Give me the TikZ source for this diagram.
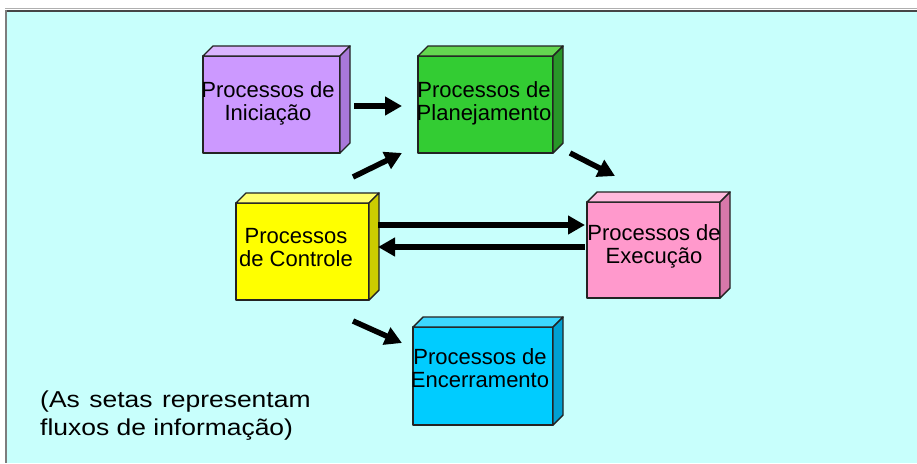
\documentclass[tikz,border=0pt]{standalone}
\usepackage{fontspec}
\setmainfont{Liberation Sans}
\newfontfamily\notefont{Liberation Sans}[FakeStretch=1.15]
\usetikzlibrary{arrows.meta}

% panel and box colours
\definecolor{panel}{RGB}{200,255,252}
\definecolor{rimlight}{RGB}{175,175,175}
\definecolor{rimdark}{RGB}{70,70,70}
\definecolor{edge}{RGB}{35,35,35}
\definecolor{iniF}{RGB}{204,153,255}
\definecolor{iniT}{RGB}{218,180,255}
\definecolor{iniS}{RGB}{168,120,218}
\definecolor{plaF}{RGB}{51,204,51}
\definecolor{plaT}{RGB}{100,214,80}
\definecolor{plaS}{RGB}{40,150,40}
\definecolor{ctlF}{RGB}{255,255,0}
\definecolor{ctlT}{RGB}{255,255,110}
\definecolor{ctlS}{RGB}{204,204,0}
\definecolor{exeF}{RGB}{255,153,204}
\definecolor{exeT}{RGB}{255,186,221}
\definecolor{exeS}{RGB}{215,120,170}
\definecolor{encF}{RGB}{0,204,255}
\definecolor{encT}{RGB}{60,215,255}
\definecolor{encS}{RGB}{0,160,210}

\tikzset{
  face/.style={draw=edge, line width=1.4pt, line join=round},
  boxfront/.style={face, anchor=north west, inner sep=0pt, outer sep=0pt},
  boxtext/.style={anchor=north, inner sep=0pt, align=center,
    font=\fontsize{22}{23.5}\selectfont},
  flow/.style={line width=5.5pt, -{Triangle[length=17pt,width=18pt]}},
}

% top and right faces of a block, drawn on the front face node #1
\newcommand\solidfaces[3]{%
  \path[face, fill=#2] (#1.north west) -- ++(10,-10)
    -- ([shift={(10,-10)}]#1.north east) -- (#1.north east) -- cycle;
  \path[face, fill=#3] (#1.north east) -- ++(10,-10)
    -- ([shift={(10,-10)}]#1.south east) -- (#1.south east) -- cycle;
}

\begin{document}
\begin{tikzpicture}[x=1pt, y=-1pt]
  \useasboundingbox (0,0) rectangle (917,463);
  % panel
  \fill[white] (0,0) rectangle (917,463);
  \fill[panel] (6,10) rectangle (917,463);
  \draw[rimlight, line width=1.5pt] (5,8.5) -- (917,8.5);
  \draw[rimdark, line width=2pt] (6,10.5) -- (917,10.5);
  \draw[rimdark!70, line width=1.5pt] (6,10) -- (6,463);

  % blocks
  \node[boxfront, fill=iniF, minimum width=137pt, minimum height=97pt] (ini) at (203,56) {};
  \solidfaces{ini}{iniT}{iniS}
  \node[boxfront, fill=plaF, minimum width=135pt, minimum height=97pt] (pla) at (418,56) {};
  \solidfaces{pla}{plaT}{plaS}
  \node[boxfront, fill=ctlF, minimum width=133pt, minimum height=97pt] (ctl) at (236,203) {};
  \solidfaces{ctl}{ctlT}{ctlS}
  \node[boxfront, fill=exeF, minimum width=133pt, minimum height=96pt] (exe) at (587,202) {};
  \solidfaces{exe}{exeT}{exeS}
  \node[boxfront, fill=encF, minimum width=140pt, minimum height=98pt] (enc) at (413,327) {};
  \solidfaces{enc}{encT}{encS}

  % labels
  \node[boxtext] (ini-t) at (268,81) {Processos de\\Iniciação};
  \node[boxtext] (pla-t) at (484,81) {Processos de\\Planejamento};
  \node[boxtext] (ctl-t) at (296,228) {Processos\\de Controle};
  \node[boxtext] (exe-t) at (654,224) {Processos de\\Execução};
  \node[boxtext] (enc-t) at (480,348) {Processos de\\Encerramento};

  % information flows
  \draw[flow] ([shift={(14,1.5)}]ini.east) -- ([shift={(-16,1.5)}]pla.west);
  \draw[flow] ([shift={(-16,-26)}]ctl.north east) -- ([shift={(-16,0)}]pla.south west);
  \draw[flow] ([shift={(17,0)}]pla.south east) -- ([shift={(28,-26)}]exe.north west);
  \draw[flow] ([shift={(9,-26.5)}]ctl.east) -- ([shift={(-2,-25)}]exe.west);
  \draw[flow] ([shift={(-2,-3)}]exe.west) -- ([shift={(9,-4.5)}]ctl.east);
  \draw[flow] ([shift={(-16,21)}]ctl.south east) -- ([shift={(-11,16)}]enc.north west);

  % note
  \node[anchor=north west, inner sep=0pt, align=left,
    font=\notefont\fontsize{23}{28}\selectfont] (note) at (40,390.5)
    {\spaceskip=9.5pt (As setas representam\\fluxos de informação)};
\end{tikzpicture}
\end{document}
